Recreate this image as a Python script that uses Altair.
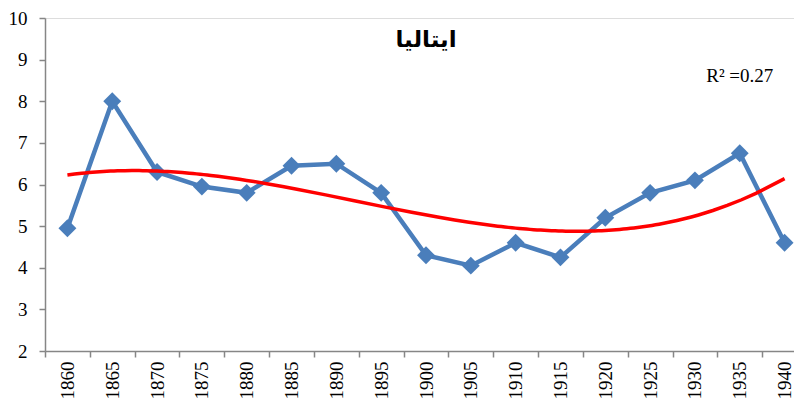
import altair as alt
import pandas as pd

years = ["1860", "1865", "1870", "1875", "1880", "1885", "1890", "1895", "1900",
         "1905", "1910", "1915", "1920", "1925", "1930", "1935", "1940"]
values = [4.95, 8.0, 6.3, 5.95, 5.8, 6.45, 6.5, 5.8, 4.3,
          4.05, 4.6, 4.25, 5.2, 5.8, 6.1, 6.75, 4.6]
idx = list(range(len(years)))

title_text = ["ایتالیا"]
r2_text = ["R² =0.27"]

df = pd.DataFrame({"year": years, "value": values, "idx": idx})

AXIS_GREY = "#868686"
BLUE = "#4A7EBB"
RED = "#FF0000"
SERIF = "Liberation Serif"

xband = alt.X(
    "year:O",
    scale=alt.Scale(domain=years, paddingInner=0, paddingOuter=0),
    axis=alt.Axis(
        title=None, labelAngle=-90, tickBand="extent", tickSize=6,
        domainColor=AXIS_GREY, tickColor=AXIS_GREY, domainWidth=1.5, tickWidth=1.5,
        labelFont=SERIF, labelFontSize=19, labelColor="black", labelPadding=4,
        grid=False,
    ),
)
yscale = alt.Scale(domain=[2, 10], nice=False, zero=False)
yax = alt.Axis(
    title=None, values=[2, 3, 4, 5, 6, 7, 8, 9, 10], tickSize=6,
    domainColor=AXIS_GREY, tickColor=AXIS_GREY, domainWidth=1.5, tickWidth=1.5,
    labelFont=SERIF, labelFontSize=19, labelColor="black", labelPadding=12,
    grid=False,
)

base = alt.Chart(df)
line = base.mark_line(color=BLUE, strokeWidth=4.5).encode(
    x=xband, y=alt.Y("value:Q", scale=yscale, axis=yax)
)
pts = base.mark_point(shape="diamond", filled=True, color=BLUE, size=320, opacity=1).encode(
    x=xband, y=alt.Y("value:Q", scale=yscale, axis=yax)
)

tdf = pd.DataFrame({"year": ["1900"], "value": [9.47], "label": title_text})
title = alt.Chart(tdf).mark_text(
    font="DejaVu Sans", fontSize=23, fontWeight="bold", color="black"
).encode(x=xband, y=alt.Y("value:Q", scale=yscale, axis=yax), text="label:N")

rdf = pd.DataFrame({"year": ["1935"], "value": [8.6], "label": r2_text})
r2 = alt.Chart(rdf).mark_text(
    font=SERIF, fontSize=19, color="black"
).encode(x=xband, y=alt.Y("value:Q", scale=yscale, axis=yax), text="label:N")

band_group = alt.layer(line, pts, title, r2)

trend = base.transform_regression(
    "idx", "value", method="poly", order=3, extent=[0, 16]
).mark_line(color=RED, strokeWidth=3.5).encode(
    x=alt.X("idx:Q", scale=alt.Scale(domain=[-0.5, 16.5], nice=False, zero=False), axis=None),
    y=alt.Y("value:Q", scale=yscale, axis=yax),
)

chart = alt.layer(band_group, trend).resolve_scale(x="independent").properties(
    width=762, height=333,
    autosize=alt.AutoSizeParams(type="none"),
    padding={"left": 37, "top": 10, "right": -13, "bottom": 49},
).configure_view(stroke=None).configure(background="white")

chart.save("out.html", embed_options={"renderer": "svg", "actions": False})
